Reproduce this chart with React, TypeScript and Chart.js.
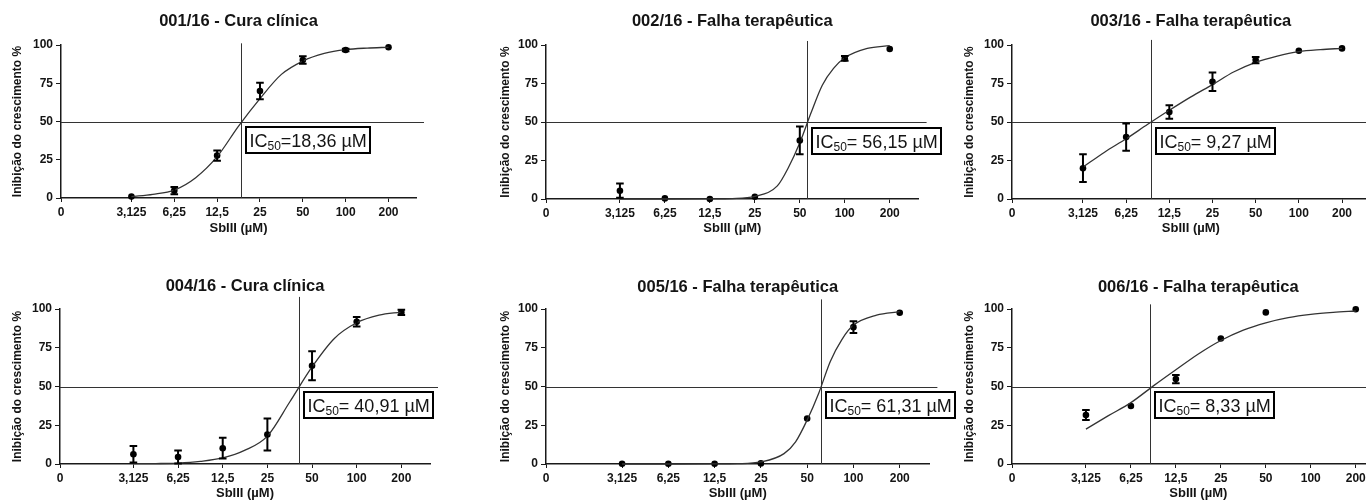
import React, { useEffect, useRef } from "react";
import { Chart, registerables } from "chart.js";

Chart.register(...registerables);

// ---------------- data ----------------
const X_TICK_VALUES = [1, 3.125, 6.25, 12.5, 25, 50, 100, 200];
const X_TICK_LABELS = ["0", "3,125", "6,25", "12,5", "25", "50", "100", "200"];
const Y_TICK_VALUES = [0, 25, 50, 75, 100];
const X_MIN = 1;
const X_MAX = 312;
const X_AXIS_TITLE = "SbIII (µM)";
const Y_AXIS_TITLE = "Inibição do crescimento %";

const TITLES = [
  "001/16 - Cura clínica",
  "002/16 - Falha terapêutica",
  "003/16 - Falha terapêutica",
  "004/16 - Cura clínica",
  "005/16 - Falha terapêutica",
  "006/16 - Falha terapêutica",
];
const IC50_VALUES = [18.36, 56.15, 9.27, 40.91, 61.31, 8.33];
const IC50_TEXTS = ["=18,36 µM", "= 56,15 µM", "= 9,27 µM", "= 40,91 µM", "= 61,31 µM", "= 8,33 µM"];
const IC50_LINE_TOP = [101.1, 102.6, 103.3, 107.8, 106.2, 103];

const CONC = [3.125, 6.25, 12.5, 25, 50, 100, 200];
const CONC_006 = [3.125, 6.25, 12.5, 25, 50, 200];

const MEAN_001 = [0.9, 4.8, 27.7, 69.9, 90.2, 96.7, 98.5];
const SEM_001 = [0, 2.4, 3.3, 5.4, 2.4, 0.8, 0];
const MEAN_002 = [5.4, 0.4, 0, 1.5, 38, 91.3, 97.4];
const SEM_002 = [4.6, 0, 0, 0, 9, 1.5, 0];
const MEAN_003 = [20, 40.2, 56.5, 76.1, 90.2, 96.3, 97.8];
const SEM_003 = [9, 8.9, 4.4, 6, 2, 0, 0];
const MEAN_004 = [6.3, 4.5, 10.2, 19, 63.4, 91.8, 97.8];
const SEM_004 = [5.3, 4.2, 6.7, 10.3, 9.3, 3.1, 1.7];
const MEAN_005 = [0.2, 0.2, 0.2, 0.4, 29.4, 88.3, 97.6];
const SEM_005 = [0, 0, 0, 0, 0, 3.8, 0];
const MEAN_006 = [31.6, 37.4, 54.8, 81, 97.8, 99.8];
const SEM_006 = [3.2, 0, 2.7, 0, 0, 0];

// fitted curves
const CURVE_X = [3.125, 4.42, 6.25, 8.84, 12.5, 17.68, 25, 35.36, 50, 70.71, 100, 141.42, 200];
const CURVE_X_FINE = [3.125, 6.25, 12.5, 17.68, 25, 35.36, 42.04, 50, 59.46, 70.71, 84.09, 100, 141.42, 200];
const CURVE_001 = [0.9, 2.4, 5.2, 13.3, 27, 47, 65, 80.8, 89.5, 94.5, 97, 98, 98.5];
const CURVE_002 = [0, 0, 0.1, 0.3, 1.7, 8.5, 20.6, 36.5, 56, 73.9, 84.8, 91.7, 97.8, 99.6];
const CURVE_003 = [20.7, 30.4, 39.1, 48.5, 57.6, 66.3, 74.3, 82.6, 88.7, 92.8, 95.7, 97, 97.8];
const CURVE_004 = [0.2, 0.3, 0.6, 1.7, 3.9, 8.9, 18, 40, 62.6, 81, 91.1, 96, 98];
const CURVE_005 = [0, 0, 0.05, 0.2, 1.3, 6.7, 14.3, 28.4, 45.7, 66.2, 80.3, 89.6, 96.1, 98.3];
const CURVE_006 = [22.5, 31.2, 39.6, 50.4, 60.8, 71, 79.7, 86.4, 91.1, 94.4, 96.5, 97.8, 98.7];

const POINT_X = [CONC, CONC, CONC, CONC, CONC, CONC_006];
const MEANS = [MEAN_001, MEAN_002, MEAN_003, MEAN_004, MEAN_005, MEAN_006];
const SEMS = [SEM_001, SEM_002, SEM_003, SEM_004, SEM_005, SEM_006];
const CURVE_XS = [CURVE_X, CURVE_X_FINE, CURVE_X, CURVE_X, CURVE_X_FINE, CURVE_X];
const CURVES = [CURVE_001, CURVE_002, CURVE_003, CURVE_004, CURVE_005, CURVE_006];

// ---------------- layout & style ----------------
const LAYOUTS = [
  { left: 0, top: 0, width: 455, height: 242, plotLeft: 61, plotRight: 416, plotTop: 45, plotBottom: 198, titleY: 21, yTitleX: 18, xTitleY: 228.7 },
  { left: 460, top: 0, width: 495, height: 242, plotLeft: 546, plotRight: 918.6, plotTop: 45, plotBottom: 199, titleY: 21, yTitleX: 506, xTitleY: 228.5 },
  { left: 920, top: 0, width: 470, height: 242, plotLeft: 1012, plotRight: 1369.7, plotTop: 45, plotBottom: 199, titleY: 21, yTitleX: 970, xTitleY: 228.5 },
  { left: 0, top: 258, width: 455, height: 244, plotLeft: 60, plotRight: 430, plotTop: 309, plotBottom: 464, titleY: 286.7, yTitleX: 18, xTitleY: 493 },
  { left: 460, top: 258, width: 500, height: 244, plotLeft: 546, plotRight: 929.4, plotTop: 309, plotBottom: 464, titleY: 287, yTitleX: 506, xTitleY: 493 },
  { left: 920, top: 258, width: 480, height: 244, plotLeft: 1012, plotRight: 1384.6, plotTop: 309, plotBottom: 464, titleY: 287, yTitleX: 970, xTitleY: 493 },
];

const FONT = 'Arial, "Liberation Sans", Helvetica, sans-serif';
const TEXT = "#141414";
const AXIS = "#1a1a1a";
const REF = "#333333";
const TITLE_SIZE = 16.5;
const TICK_SIZE = 12;
const Y_TITLE_SIZE = 12;
const X_TITLE_SIZE = 13;
const BOX_SIZE = 18;
const SUB_SIZE = 12;

function xTickLabel(v: number): string {
  for (let i = 0; i < X_TICK_VALUES.length; i++) {
    if (Math.abs(X_TICK_VALUES[i] - v) < 1e-6) return X_TICK_LABELS[i];
  }
  return "";
}

function makePlugin(idx: number) {
  return {
    id: "doseResponseExtras" + idx,
    beforeDatasetsDraw(chart: any) {
      const { ctx, chartArea, scales } = chart;
      const xs = scales.x;
      const ys = scales.y;
      ctx.save();
      ctx.strokeStyle = REF;
      ctx.lineWidth = 1;
      const y50 = Math.round(ys.getPixelForValue(50)) + 0.5;
      ctx.beginPath();
      ctx.moveTo(chartArea.left, y50);
      ctx.lineTo(chartArea.right + 8, y50);
      ctx.stroke();
      const xi = Math.round(xs.getPixelForValue(IC50_VALUES[idx])) + 0.5;
      ctx.beginPath();
      ctx.moveTo(xi, ys.getPixelForValue(0));
      ctx.lineTo(xi, ys.getPixelForValue(IC50_LINE_TOP[idx]));
      ctx.stroke();
      ctx.restore();
    },
    afterDatasetsDraw(chart: any) {
      const { ctx, scales } = chart;
      const xs = scales.x;
      const ys = scales.y;
      ctx.save();
      // error bars
      ctx.strokeStyle = "#000";
      ctx.lineWidth = 2;
      const px = POINT_X[idx];
      const m = MEANS[idx];
      const s = SEMS[idx];
      for (let i = 0; i < px.length; i++) {
        if (!s[i]) continue;
        const x = xs.getPixelForValue(px[i]);
        const yT = ys.getPixelForValue(m[i] + s[i]);
        const yB = ys.getPixelForValue(m[i] - s[i]);
        ctx.beginPath();
        ctx.moveTo(x, yT);
        ctx.lineTo(x, yB);
        ctx.moveTo(x - 3.8, yT);
        ctx.lineTo(x + 3.8, yT);
        ctx.moveTo(x - 3.8, yB);
        ctx.lineTo(x + 3.8, yB);
        ctx.stroke();
      }
      // IC50 box
      const xi = xs.getPixelForValue(IC50_VALUES[idx]);
      const y50 = ys.getPixelForValue(50);
      ctx.font = `${BOX_SIZE}px ${FONT}`;
      const w1 = ctx.measureText("IC").width;
      const w3 = ctx.measureText(IC50_TEXTS[idx]).width;
      ctx.font = `${SUB_SIZE}px ${FONT}`;
      const w2 = ctx.measureText("50").width;
      const bx = Math.round(xi + 5);
      const by = Math.round(y50 + 5.5);
      const bw = Math.round(w1 + w2 + w3 + 7);
      const bh = 26;
      ctx.fillStyle = "#fff";
      ctx.fillRect(bx, by, bw, bh);
      ctx.strokeStyle = "#000";
      ctx.lineWidth = 2;
      ctx.strokeRect(bx, by, bw, bh);
      const base = by + bh / 2 + 6.5;
      ctx.fillStyle = TEXT;
      ctx.textBaseline = "alphabetic";
      ctx.textAlign = "left";
      ctx.font = `${BOX_SIZE}px ${FONT}`;
      ctx.fillText("IC", bx + 3.5, base);
      ctx.font = `${SUB_SIZE}px ${FONT}`;
      ctx.fillText("50", bx + 3.5 + w1, base + 3.3);
      ctx.font = `${BOX_SIZE}px ${FONT}`;
      ctx.fillText(IC50_TEXTS[idx], bx + 3.5 + w1 + w2, base);
      ctx.restore();
    },
  };
}

function Panel({ idx }: { idx: number }) {
  const ref = useRef<HTMLCanvasElement | null>(null);
  const L = LAYOUTS[idx];

  useEffect(() => {
    if (!ref.current) return;
    const yAxisW = L.plotLeft - L.left;
    const xAxisH = L.top + L.height - L.plotBottom;
    const padRight = L.left + L.width - L.plotRight;
    const titleLH = TITLE_SIZE * 1.2;
    const titlePadTop = L.titleY - L.top - titleLH / 2;
    const titlePadBottom = L.plotTop - L.top - titlePadTop - titleLH;
    const yLH = Y_TITLE_SIZE * 1.2;
    const xLH = X_TITLE_SIZE * 1.2;
    const yTitlePad = L.yTitleX - L.left - yLH / 2;
    const xTitlePad = L.top + L.height - L.xTitleY - xLH / 2;

    const curve = CURVE_XS[idx].map((x, i) => ({ x, y: CURVES[idx][i] }));
    const pts = POINT_X[idx].map((x, i) => ({ x, y: MEANS[idx][i] }));

    const chart = new Chart(ref.current, {
      type: "line",
      data: {
        datasets: [
          {
            data: curve,
            borderColor: REF,
            borderWidth: 1.3,
            pointRadius: 0,
            cubicInterpolationMode: "monotone",
            fill: false,
            clip: false,
          } as any,
          {
            data: pts,
            showLine: false,
            pointRadius: 3.3,
            pointHoverRadius: 3.3,
            pointBackgroundColor: "#000",
            pointBorderColor: "#000",
            pointBorderWidth: 0,
            clip: false,
          } as any,
        ],
      },
      options: {
        responsive: false,
        animation: false,
        devicePixelRatio: 1,
        events: [],
        layout: { padding: { left: 0, top: 0, right: padRight, bottom: 0 } },
        plugins: {
          legend: { display: false },
          tooltip: { enabled: false },
          title: {
            display: true,
            text: TITLES[idx],
            fullSize: false,
            color: TEXT,
            font: { family: FONT, size: TITLE_SIZE, weight: "bold", lineHeight: 1.2 },
            padding: { top: titlePadTop, bottom: titlePadBottom },
          },
        },
        scales: {
          x: {
            type: "logarithmic",
            min: X_MIN,
            max: X_MAX,
            bounds: "data",
            afterBuildTicks: (s: any) => {
              s.ticks = X_TICK_VALUES.map((v) => ({ value: v }));
            },
            afterFit: (s: any) => {
              s.height = xAxisH;
            },
            ticks: {
              autoSkip: false,
              maxRotation: 0,
              minRotation: 0,
              padding: 3,
              color: TEXT,
              font: { family: FONT, size: TICK_SIZE, weight: "bold" },
              callback: (v: any) => xTickLabel(Number(v)),
            },
            grid: { drawOnChartArea: false, drawTicks: true, tickLength: 4, color: AXIS, lineWidth: 1 },
            border: { display: true, color: AXIS, width: 1.5 },
            title: {
              display: true,
              text: X_AXIS_TITLE,
              color: TEXT,
              font: { family: FONT, size: X_TITLE_SIZE, weight: "bold", lineHeight: 1.2 },
              padding: { top: 0, bottom: xTitlePad },
            },
          },
          y: {
            type: "linear",
            min: 0,
            max: 100,
            afterBuildTicks: (s: any) => {
              s.ticks = Y_TICK_VALUES.map((v) => ({ value: v }));
            },
            afterFit: (s: any) => {
              s.width = yAxisW;
            },
            ticks: {
              padding: 3,
              color: TEXT,
              font: { family: FONT, size: TICK_SIZE, weight: "bold" },
            },
            grid: { drawOnChartArea: false, drawTicks: true, tickLength: 5, color: AXIS, lineWidth: 1 },
            border: { display: true, color: AXIS, width: 1.5 },
            title: {
              display: true,
              text: Y_AXIS_TITLE,
              color: TEXT,
              font: { family: FONT, size: Y_TITLE_SIZE, weight: "bold", lineHeight: 1.2 },
              padding: { top: yTitlePad, bottom: 0 },
            },
          },
        },
      } as any,
      plugins: [makePlugin(idx)],
    });
    return () => chart.destroy();
  }, [idx]);

  return (
    <canvas
      ref={ref}
      width={L.width}
      height={L.height}
      style={{ position: "absolute", left: L.left, top: L.top, width: L.width, height: L.height }}
    />
  );
}

export default function App() {
  return (
    <div
      style={{
        position: "absolute",
        left: 0,
        top: 0,
        width: 1366,
        height: 502,
        overflow: "hidden",
        background: "#fff",
      }}
    >
      {TITLES.map((_, i) => (
        <Panel key={i} idx={i} />
      ))}
    </div>
  );
}
